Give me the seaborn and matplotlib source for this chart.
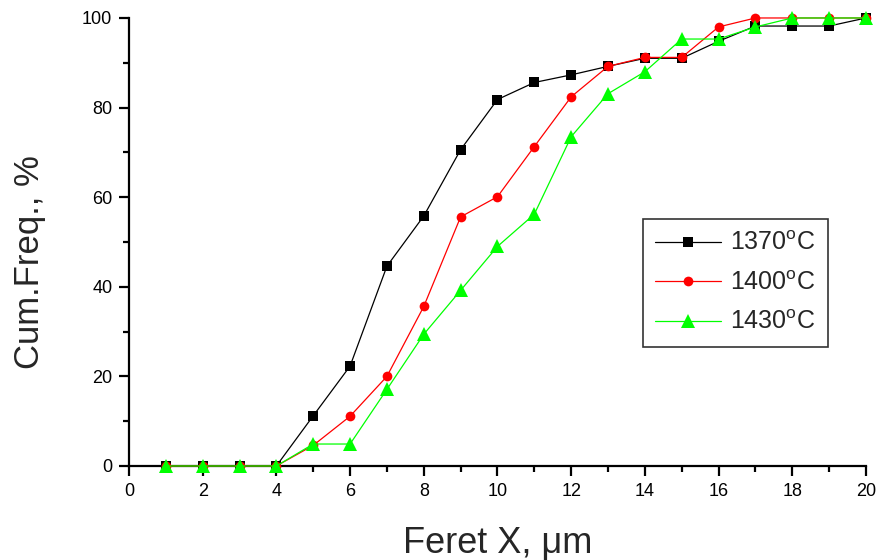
import matplotlib
matplotlib.use("Agg")
import matplotlib.pyplot as plt
import seaborn as sns
import pandas as pd

# Feret diameter bins (µm) and cumulative frequency (%) per sintering temperature
feret_x = list(range(1, 21))
freq_1370 = [0, 0, 0, 0, 11.2, 22.3, 44.6, 55.8, 70.6, 81.8, 85.6, 87.3, 89.2, 91.0, 91.0,
             94.8, 98.2, 98.2, 98.2, 100]
freq_1400 = [0, 0, 0, 0, 4.6, 11.1, 20.0, 35.6, 55.6, 60.1, 71.3, 82.4, 89.2, 91.2, 91.2,
             98.0, 100, 100, 100, 100]
freq_1430 = [0, 0, 0, 0, 4.9, 4.9, 17.1, 29.4, 39.2, 49.0, 56.2, 73.5, 83.1, 88.0, 95.3,
             95.3, 98.0, 100, 100, 100]
series_labels = ["1370$^o$C", "1400$^o$C", "1430$^o$C"]

sns.set_theme(style="ticks")
plt.rcParams["font.family"] = ["Liberation Sans", "DejaVu Sans"]
plt.rcParams["mathtext.default"] = "regular"

df = pd.DataFrame({
    "x": feret_x * 3,
    "y": freq_1370 + freq_1400 + freq_1430,
    "T": [series_labels[0]] * 20 + [series_labels[1]] * 20 + [series_labels[2]] * 20,
})

fig = plt.figure(figsize=(8.78, 5.6), dpi=100)
ax = fig.add_axes([0.1469, 0.1679, 0.8394, 0.8000])

palette = {series_labels[0]: "#000000", series_labels[1]: "#ff0000", series_labels[2]: "#00ff00"}
markers = {series_labels[0]: "s", series_labels[1]: "o", series_labels[2]: "^"}
sizes_ms = {series_labels[0]: 6.5, series_labels[1]: 7.0, series_labels[2]: 10.0}

for lab in series_labels:
    sub = df[df["T"] == lab]
    sns.lineplot(data=sub, x="x", y="y", ax=ax, color=palette[lab], marker=markers[lab],
                 markersize=sizes_ms[lab], markeredgewidth=0, linewidth=0.9,
                 label=lab, clip_on=False, zorder=3)

ax.set_xlim(0, 20)
ax.set_ylim(0, 100)
ax.set_xticks(range(0, 21, 2))
ax.set_xticks(range(0, 21, 1), minor=True)
ax.set_yticks(range(0, 101, 20))
ax.set_yticks(range(0, 101, 10), minor=True)

for side in ("top", "right"):
    ax.spines[side].set_visible(False)
for side in ("left", "bottom"):
    ax.spines[side].set_linewidth(1.6)
    ax.spines[side].set_color("black")

ax.tick_params(axis="both", which="major", direction="out", length=7, width=1.6,
               labelsize=13, colors="black", pad=5)
ax.tick_params(axis="both", which="minor", direction="out", length=4.5, width=1.6, colors="black")

ax.set_xlabel("Feret X, μm", fontsize=26)
ax.xaxis.set_label_coords(0.5, -0.135)
ax.set_ylabel("Cum.Freq., %", fontsize=25)
ax.yaxis.set_label_coords(-0.112, 0.455)

leg = ax.legend(loc="upper left", bbox_to_anchor=(0.6974, 0.5513), borderaxespad=0,
                fontsize=18, frameon=True, fancybox=False, edgecolor="black",
                handlelength=2.64, borderpad=0.5, labelspacing=0.62, handletextpad=0.36,
                numpoints=1)
leg.get_frame().set_linewidth(1.2)

fig.savefig("out.png", dpi=100)
